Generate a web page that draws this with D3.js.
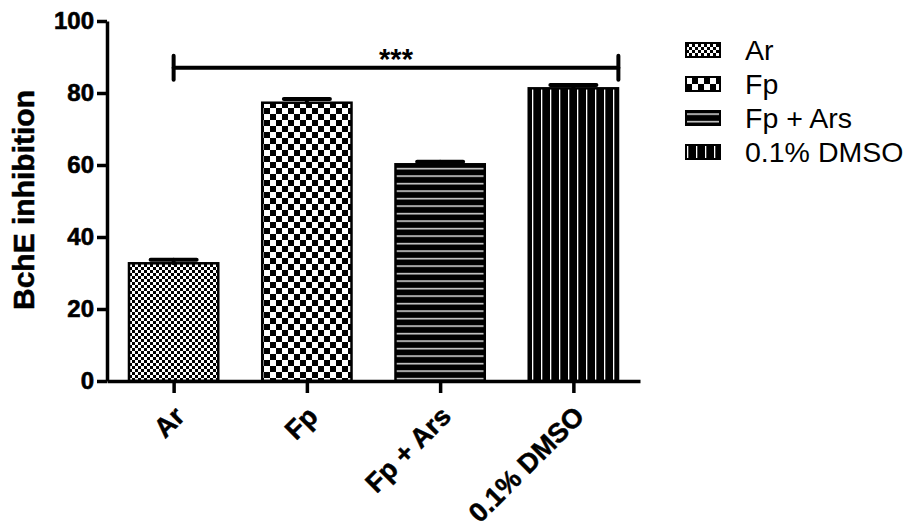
<!DOCTYPE html>
<html>
<head>
<meta charset="utf-8">
<script src="https://cdn.jsdelivr.net/npm/d3@7"></script>
<style>
  body { margin: 0; background: #fff; }
  svg { display: block; font-family: Arial, "Liberation Sans", sans-serif; }
</style>
</head>
<body>
<div id="app"></div>
<script>
const groups = ['Ar', 'Fp', 'Fp + Ars', '0.1% DMSO'];
const means = [32.7, 77.3, 60.2, 81.3];
const errors = [1.0, 1.0, 0.7, 0.9];
const yTicks = [0, 20, 40, 60, 80, 100];
const patternIds = ['pat-fine', 'pat-check', 'pat-hlines', 'pat-vlines'];
const sigLabel = '***';
const sigLevel = 87;

const width = 915;
const height = 525;

const svg = d3.select('#app').append('svg')
  .attr('width', width)
  .attr('height', height);

// fill patterns, roughly the Prism ones
const defs = svg.append('defs');

const fine = defs.append('pattern').attr('id', 'pat-fine')
  .attr('patternUnits', 'userSpaceOnUse').attr('width', 6).attr('height', 6);
fine.append('rect').attr('width', 6).attr('height', 6).attr('fill', '#fff');
fine.append('rect').attr('width', 3).attr('height', 3).attr('fill', '#000');
fine.append('rect').attr('x', 3).attr('y', 3).attr('width', 3).attr('height', 3).attr('fill', '#000');

const check = defs.append('pattern').attr('id', 'pat-check')
  .attr('patternUnits', 'userSpaceOnUse').attr('width', 12).attr('height', 12);
check.append('rect').attr('width', 12).attr('height', 12).attr('fill', '#fff');
check.append('rect').attr('width', 6).attr('height', 6).attr('fill', '#000');
check.append('rect').attr('x', 6).attr('y', 6).attr('width', 6).attr('height', 6).attr('fill', '#000');

const hl = defs.append('pattern').attr('id', 'pat-hlines')
  .attr('patternUnits', 'userSpaceOnUse').attr('width', 10).attr('height', 7.5);
hl.append('rect').attr('width', 10).attr('height', 7.5).attr('fill', '#000');
hl.append('rect').attr('y', 3).attr('width', 10).attr('height', 1.3).attr('fill', '#fff');

const vl = defs.append('pattern').attr('id', 'pat-vlines')
  .attr('patternUnits', 'userSpaceOnUse').attr('width', 9).attr('height', 10);
vl.append('rect').attr('width', 9).attr('height', 10).attr('fill', '#000');
vl.append('rect').attr('x', 1).attr('width', 1.3).attr('height', 10).attr('fill', '#fff');

const x = d3.scalePoint().domain(groups).range([107, 640]).padding(0.5);
const y = d3.scaleLinear().domain([0, 100]).range([381, 21]);
const barW = x.step() * 0.67;

// bars
svg.append('g').selectAll('rect')
  .data(groups)
  .join('rect')
  .attr('x', d => x(d) - barW / 2)
  .attr('y', (d, i) => y(means[i]))
  .attr('width', barW)
  .attr('height', (d, i) => y(0) - y(means[i]))
  .attr('fill', (d, i) => `url(#${patternIds[i]})`)
  .attr('stroke', '#000')
  .attr('stroke-width', 2.5);

// error caps (upper only, stem hidden in the bar)
const errG = svg.append('g')
  .attr('stroke', '#000').attr('stroke-width', 4).attr('stroke-linecap', 'round');
errG.selectAll('line.cap')
  .data(groups)
  .join('line')
  .attr('class', 'cap')
  .attr('x1', d => x(d) - 23)
  .attr('x2', d => x(d) + 23)
  .attr('y1', (d, i) => y(means[i] + errors[i]))
  .attr('y2', (d, i) => y(means[i] + errors[i]));
errG.selectAll('line.stem')
  .data(groups)
  .join('line')
  .attr('class', 'stem')
  .attr('x1', d => x(d)).attr('x2', d => x(d))
  .attr('y1', (d, i) => y(means[i] + errors[i]))
  .attr('y2', (d, i) => y(means[i]));

// significance bracket
const sig = svg.append('g')
  .attr('stroke', '#000').attr('stroke-width', 4).attr('stroke-linecap', 'round');
const sx0 = x(groups[0]);
const sx1 = x(groups[groups.length - 1]) + 45;
sig.append('line').attr('x1', sx0).attr('x2', sx1).attr('y1', y(sigLevel)).attr('y2', y(sigLevel));
sig.append('line').attr('x1', sx0).attr('x2', sx0).attr('y1', y(sigLevel) - 12).attr('y2', y(sigLevel) + 12);
sig.append('line').attr('x1', sx1).attr('x2', sx1).attr('y1', y(sigLevel) - 12).attr('y2', y(sigLevel) + 12);
svg.append('text')
  .attr('x', (sx0 + sx1) / 2)
  .attr('y', y(sigLevel) + 1)
  .attr('text-anchor', 'middle')
  .attr('font-size', 29)
  .attr('font-weight', 'bold')
  .text(sigLabel);

// axes
const yAxis = svg.append('g')
  .attr('transform', 'translate(107,0)')
  .call(d3.axisLeft(y).tickValues(yTicks).tickSize(10).tickSizeOuter(0).tickPadding(3));
const xAxis = svg.append('g')
  .attr('transform', `translate(0,${y(0)})`)
  .call(d3.axisBottom(x).tickSize(12).tickSizeOuter(0).tickFormat(''));

[yAxis, xAxis].forEach(a => {
  a.select('.domain').attr('stroke-width', 3.5);
  a.selectAll('.tick line').attr('stroke-width', 3.5);
});
yAxis.selectAll('.tick text')
  .attr('font-size', 24).attr('font-weight', 'bold').attr('fill', '#000')
  .attr('stroke', '#000').attr('stroke-width', 0.6)
  .attr('font-family', 'Arial, "Liberation Sans", sans-serif');

xAxis.selectAll('.tick')
  .append('text')
  .attr('transform', 'translate(12,37) rotate(-45)')
  .attr('text-anchor', 'end')
  .attr('fill', '#000')
  .attr('stroke', '#000').attr('stroke-width', 0.5)
  .attr('font-size', 27)
  .attr('font-weight', 'bold')
  .text(d => d);

svg.append('text')
  .attr('transform', 'translate(34,200) rotate(-90)')
  .attr('text-anchor', 'middle')
  .attr('font-size', 30)
  .attr('font-weight', 'bold')
  .attr('stroke', '#000').attr('stroke-width', 0.5)
  .text('BchE inhibition');

// legend
const legend = svg.append('g').attr('transform', 'translate(686,50)');
const rows = legend.selectAll('g')
  .data(groups)
  .join('g')
  .attr('transform', (d, i) => `translate(0,${i * 34})`);
rows.append('rect')
  .attr('x', 0).attr('y', -7)
  .attr('width', 34).attr('height', 14)
  .attr('fill', (d, i) => `url(#${patternIds[i]})`)
  .attr('stroke', '#000').attr('stroke-width', 2);
rows.append('text')
  .attr('x', 59).attr('y', 10)
  .attr('font-size', 28.5)
  .text(d => d);
</script>
</body>
</html>
